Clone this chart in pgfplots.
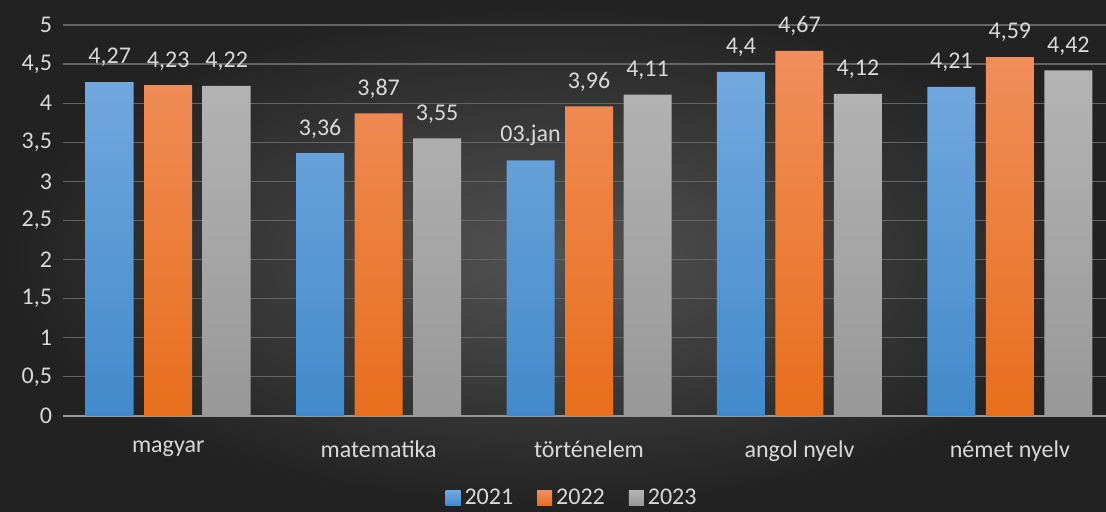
\documentclass[border=0pt]{standalone}
\usepackage{pgfplots}
\pgfplotsset{compat=1.18}
\usepackage{fontspec}
\setmainfont{Carlito}
\definecolor{bgin}{RGB}{82,82,82}
\definecolor{bgout}{RGB}{34,34,34}
\definecolor{txt}{RGB}{217,217,217}
\definecolor{bluetop}{RGB}{115,168,222}
\definecolor{bluebot}{RGB}{66,138,204}
\definecolor{orgtop}{RGB}{241,142,92}
\definecolor{orgbot}{RGB}{231,111,28}
\definecolor{graytop}{RGB}{180,180,180}
\definecolor{graybot}{RGB}{152,152,152}
\definecolor{gridc}{RGB}{100,100,100}
\definecolor{zeroc}{RGB}{150,150,150}
\begin{document}
\begin{tikzpicture}
\shade[inner color=bgin, outer color=bgout] (0,0) rectangle (553pt,256pt);
\useasboundingbox (0,0) rectangle (553pt,256pt);
\begin{axis}[
  at={(31.5pt,48pt)}, anchor=south west,
  scale only axis, width=521.5pt, height=195.5pt,
  xmin=-0.5, xmax=4.457, ymin=0, ymax=5,
  ytick={0,0.5,...,5},
  yticklabels={0,{0,5},1,{1,5},2,{2,5},3,{3,5},4,{4,5},5},
  xtick={0,1,2,3,4},
  xticklabels={magyar,matematika,történelem,angol nyelv,német nyelv},
  major tick length=0pt,
  axis line style={draw=none},
  ymajorgrids, grid style={gridc, line width=0.6pt},
  extra y ticks={0}, extra y tick labels={},
  extra y tick style={grid style={zeroc, line width=0.9pt}},
  tick label style={font=\fontsize{12}{14}\selectfont, text=txt},
  yticklabel style={xshift=-2pt},
  xticklabel style={yshift=-9pt},
  clip=false,
  legend style={draw=none, fill=none, text=txt, font=\fontsize{12}{14}\selectfont,
    legend columns=3, at={(0.489,-0.21)}, anchor=center,
    /tikz/every even column/.append style={column sep=10pt}},
  legend cell align=left,
  nodes near coords style={font=\fontsize{12}{14}\selectfont, text=txt, yshift=4pt},
]
\addplot[ybar, bar width=0.228, bar shift=0, draw=none, top color=bluetop, bottom color=bluebot,
  point meta=explicit symbolic, nodes near coords,
  legend image code/.code={\fill[bluebot!60!bluetop] (0pt,-3.75pt) rectangle (7.5pt,3.75pt);}]
  table[meta=lab] {
x y lab
-0.278 4.27 4,27
0.722 3.36 3,36
1.722 3.27 03.jan
2.722 4.40 4,4
3.722 4.21 4,21
};
\addlegendentry{2021}
\addplot[ybar, bar width=0.228, bar shift=0, draw=none, top color=orgtop, bottom color=orgbot,
  point meta=explicit symbolic, nodes near coords,
  legend image code/.code={\fill[orgbot!70!orgtop] (0pt,-3.75pt) rectangle (7.5pt,3.75pt);}]
  table[meta=lab] {
x y lab
0 4.23 4,23
1 3.87 3,87
2 3.96 3,96
3 4.67 4,67
4 4.59 4,59
};
\addlegendentry{2022}
\addplot[ybar, bar width=0.228, bar shift=0, draw=none, top color=graytop, bottom color=graybot,
  point meta=explicit symbolic, nodes near coords,
  legend image code/.code={\fill[graybot!60!graytop] (0pt,-3.75pt) rectangle (7.5pt,3.75pt);}]
  table[meta=lab] {
x y lab
0.278 4.22 4,22
1.278 3.55 3,55
2.278 4.11 4,11
3.278 4.12 4,12
4.278 4.42 4,42
};
\addlegendentry{2023}
\end{axis}
\end{tikzpicture}
\end{document}
